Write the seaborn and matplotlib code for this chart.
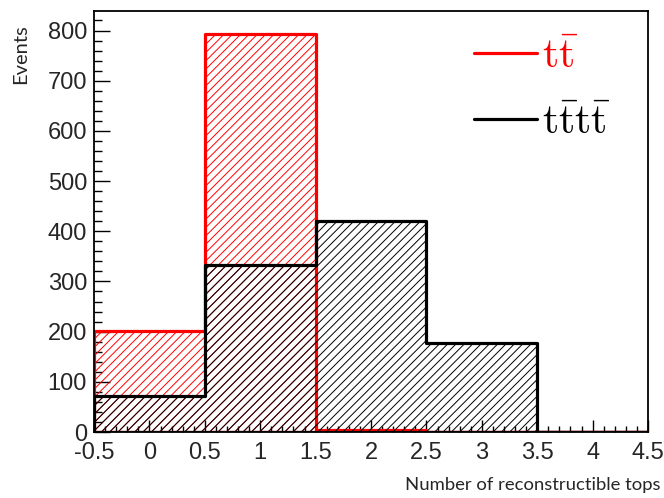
import numpy as np
import pandas as pd
import matplotlib
matplotlib.use("Agg")
import matplotlib.pyplot as plt
from matplotlib.ticker import MultipleLocator, FuncFormatter
import seaborn as sns

# Bin edges and per-bin event counts
bin_edges = [-0.5, 0.5, 1.5, 2.5, 3.5, 4.5]
n_tops = [0, 1, 2, 3, 4]
tt_counts = [201, 793, 4, 0.6, 0]
tttt_counts = [72, 333, 421, 178, 0]
labels = [r"$\mathrm{t\bar{t}}$", r"$\mathrm{t\bar{t}t\bar{t}}$"]
colors = ["#ff0000", "#000000"]

sns.set_style("white")
plt.rcParams["hatch.linewidth"] = 0.7
plt.rcParams["mathtext.fontset"] = "cm"

fig = plt.figure(figsize=(6.64, 4.98), dpi=100)
ax = fig.add_axes([0.1416, 0.1325, 0.976 - 0.1416, 0.978 - 0.1325])

df = pd.DataFrame({
    "n": n_tops * 2,
    "count": tt_counts + tttt_counts,
    "sample": ["tt"] * len(n_tops) + ["tttt"] * len(n_tops),
})

for (name, sub), col, lab in zip(df.groupby("sample", sort=False), colors, labels):
    sns.histplot(data=sub, x="n", weights="count", bins=bin_edges,
                 element="step", fill=True, color=col, facecolor="none",
                 edgecolor=col, hatch="////", linewidth=2.3, ax=ax)
    ax.plot([], [], color=col, lw=2.3, label=lab)

ax.set_xlim(-0.5, 4.5)
ax.set_ylim(0, 839)
ax.xaxis.set_major_locator(MultipleLocator(0.5))
ax.xaxis.set_minor_locator(MultipleLocator(0.1))
ax.yaxis.set_major_locator(MultipleLocator(100))
ax.yaxis.set_minor_locator(MultipleLocator(20))
ax.xaxis.set_major_formatter(FuncFormatter(lambda v, p: f"{v:g}"))

ax.tick_params(axis="both", which="both", direction="in", top=False, right=False,
               bottom=True, left=True, color="black", labelsize=17)
ax.tick_params(axis="x", which="major", length=8.5, width=1.0, pad=7.5)
ax.tick_params(axis="x", which="minor", length=4.3, width=1.0)
ax.tick_params(axis="y", which="major", length=11.5, width=1.0, pad=5)
ax.tick_params(axis="y", which="minor", length=5.8, width=1.0)
for t in ax.get_xticklabels() + ax.get_yticklabels():
    t.set_fontfamily("Liberation Sans")

for sp in ax.spines.values():
    sp.set_color("black")
    sp.set_linewidth(1.3)
    sp.set_visible(True)

ax.set_xlabel("Number of reconstructible tops", fontsize=13.3, fontfamily="Lato",
              ha="right")
ax.xaxis.set_label_coords(1.0217, -0.108)
ax.set_ylabel("")
fig.text(21 / 664, 1 - 24 / 498, "Events", rotation=90, ha="center", va="top",
         fontsize=14.5, fontfamily="Lato")

leg = ax.legend(loc="upper left", bbox_to_anchor=(474 / 664, 1 - 35 / 498),
                bbox_transform=fig.transFigure, frameon=False,
                fontsize=30, handlelength=1.51, handletextpad=0.12,
                labelspacing=0.57, borderpad=0, borderaxespad=0)
for txt, col in zip(leg.get_texts(), colors):
    txt.set_color(col)

fig.savefig("out.png", dpi=100)
